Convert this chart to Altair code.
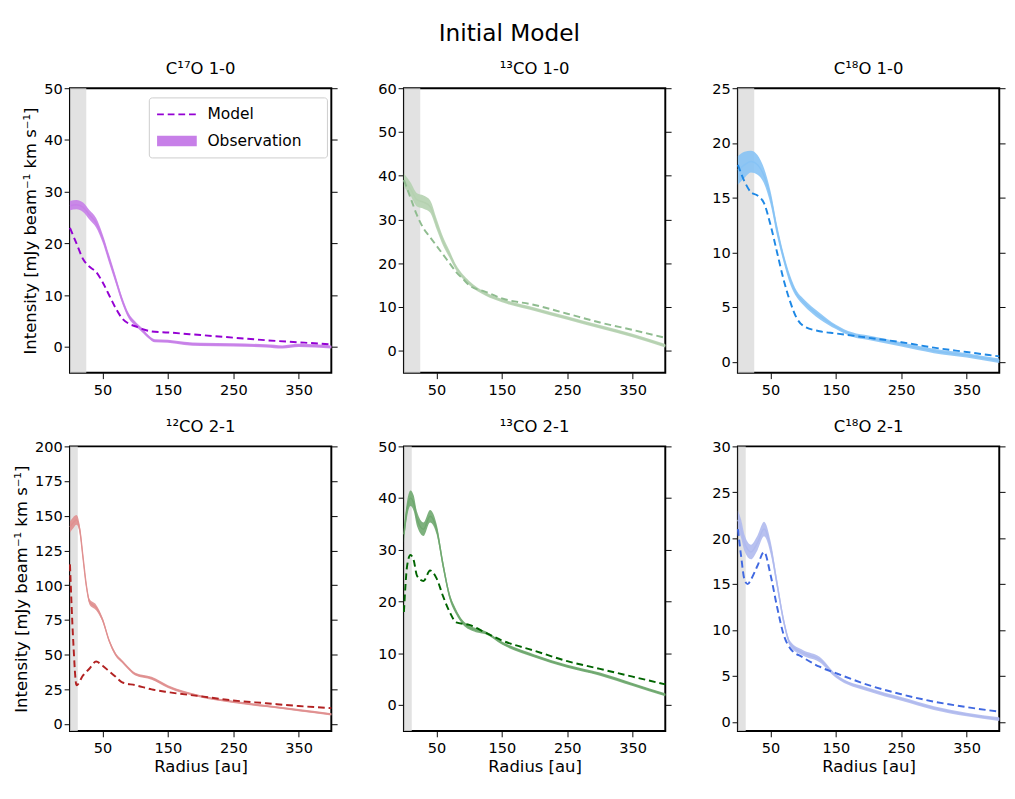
import altair as alt
import pandas as pd

FONT = "DejaVu Sans"

PANELS = [
    {
        "title": "C¹⁷O 1-0", "ydom": [-5, 50], "yticks": [0, 10, 20, 30, 40, 50], "band": 25,
        "obs_color": "#c77fe8", "model_color": "#9400d3",
        "obs_r": [0, 10, 20, 30, 40, 50, 60, 70, 80, 90, 100, 110, 120, 130, 150, 175, 200, 250, 300, 325, 350, 400],
        "obs_y": [27.3, 27.5, 27, 25.5, 24, 21, 17, 13, 9, 6, 4.5, 3.3, 2, 1.2, 1.1, 0.7, 0.5, 0.4, 0.2, 0.0, 0.3, 0],
        "obs_w": [0.9, 0.9, 0.9, 0.9, 0.9, 0.8, 0.8, 0.7, 0.6, 0.5, 0.4, 0.4, 0.3, 0.3, 0.3, 0.3, 0.3, 0.3, 0.3, 0.3, 0.3, 0.3],
        "mod_r": [0, 10, 20, 30, 40, 50, 60, 70, 80, 90, 100, 110, 125, 150, 200, 250, 300, 350, 400],
        "mod_y": [23, 20, 17, 15.5, 14.5, 12.5, 10, 7.5, 5.5, 4.5, 4, 3.5, 3.0, 2.8, 2.3, 1.8, 1.3, 0.9, 0.5],
    },
    {
        "title": "¹³CO 1-0", "ydom": [-5, 60], "yticks": [0, 10, 20, 30, 40, 50, 60], "band": 25,
        "obs_color": "#b5d1b0", "model_color": "#8fbc8f",
        "obs_r": [0, 10, 20, 30, 40, 50, 60, 70, 80, 90, 100, 125, 150, 200, 250, 300, 350, 400],
        "obs_y": [39, 37, 34.5, 34, 33, 29, 25, 22, 19, 17, 15.5, 13, 11.5, 9.5, 7.5, 5.5, 3.5, 1.2],
        "obs_w": [1.5, 1.5, 1.5, 1.5, 1.4, 1.2, 1, 0.8, 0.6, 0.5, 0.5, 0.4, 0.4, 0.4, 0.4, 0.4, 0.4, 0.4],
        "mod_r": [0, 10, 20, 30, 40, 50, 60, 70, 80, 90, 100, 125, 150, 200, 250, 300, 350, 400],
        "mod_y": [39, 35, 31, 28, 26, 24, 22, 20, 18, 16.5, 15, 13.5, 12, 10.5, 8.5, 6.5, 4.8, 3],
    },
    {
        "title": "C¹⁸O 1-0", "ydom": [-1, 25], "yticks": [0, 5, 10, 15, 20, 25], "band": 25,
        "obs_color": "#87c3f5", "model_color": "#1e88e5",
        "obs_r": [0, 10, 20, 30, 40, 50, 60, 70, 80, 90, 100, 125, 150, 175, 200, 250, 300, 350, 400],
        "obs_y": [17.5, 18, 18.3, 18, 17, 15, 12, 9.5, 7.5, 6.2, 5.5, 4.2, 3.2, 2.5, 2.2, 1.6, 1.0, 0.6, 0.1],
        "obs_w": [1.3, 1.2, 1.0, 0.9, 0.7, 0.6, 0.5, 0.4, 0.4, 0.3, 0.3, 0.3, 0.2, 0.2, 0.2, 0.2, 0.2, 0.2, 0.2],
        "mod_r": [0, 10, 20, 30, 40, 50, 60, 70, 80, 90, 100, 125, 150, 200, 250, 300, 350, 400],
        "mod_y": [18, 16.5, 15.5, 15.2, 14.5, 12.5, 10, 7.5, 5.5, 4.0, 3.3, 2.8, 2.6, 2.2, 1.8, 1.3, 0.9, 0.5],
    },
    {
        "title": "¹²CO 2-1", "ydom": [-5, 200], "yticks": [0, 25, 50, 75, 100, 125, 150, 175, 200], "band": 12,
        "obs_color": "#e09090", "model_color": "#b22222",
        "obs_r": [0, 5, 10, 15, 20, 25, 30, 40, 50, 60, 70, 80, 90, 100, 125, 150, 200, 250, 300, 350, 400],
        "obs_y": [142, 145, 147, 140, 120, 100, 88, 84, 75, 60, 50, 45, 40, 36, 33, 27, 20, 16, 13, 10, 7],
        "obs_w": [4, 4, 3.5, 3, 2.5, 2, 2, 2, 1.5, 1.2, 1.2, 1, 1, 1, 1, 1, 0.8, 0.8, 0.8, 0.8, 0.8],
        "mod_r": [0, 5, 10, 20, 30, 40, 50, 60, 70, 80, 100, 125, 150, 200, 250, 300, 350, 400],
        "mod_y": [115, 60, 28, 35, 40, 45, 42, 38, 34, 30, 28, 25, 23, 20, 17, 15, 13, 11.5],
    },
    {
        "title": "¹³CO 2-1", "ydom": [-5, 50], "yticks": [0, 10, 20, 30, 40, 50], "band": 12,
        "obs_color": "#6fa86f", "model_color": "#006400",
        "obs_r": [0, 5, 10, 15, 20, 30, 40, 50, 60, 70, 80, 90, 100, 110, 125, 150, 200, 250, 300, 350, 400],
        "obs_y": [33, 38, 40, 39, 36, 34, 36.5, 34, 27, 21, 18, 16, 15, 14.5, 14, 12, 9.5, 7.5, 6, 4, 2],
        "obs_w": [1.5, 1.5, 1.5, 1.5, 1.4, 1.3, 1.2, 1, 0.8, 0.6, 0.5, 0.4, 0.4, 0.4, 0.3, 0.3, 0.3, 0.3, 0.3, 0.3, 0.3],
        "mod_r": [0, 5, 10, 15, 20, 30, 40, 50, 60, 70, 80, 100, 125, 150, 200, 250, 300, 350, 400],
        "mod_y": [18, 27, 29, 28, 25, 24, 26, 24.5, 21, 18, 16, 15.5, 14, 12.5, 10.5, 8.5, 7, 5.5, 4],
    },
    {
        "title": "C¹⁸O 2-1", "ydom": [-1, 30], "yticks": [0, 5, 10, 15, 20, 25, 30], "band": 12,
        "obs_color": "#b0baee", "model_color": "#4169e1",
        "obs_r": [0, 5, 10, 20, 30, 40, 50, 60, 70, 80, 100, 125, 150, 200, 250, 300, 350, 400],
        "obs_y": [22, 21, 19.5, 18.5, 19.5, 21, 19, 15, 11, 8.5, 7.5, 6.8, 5, 3.5, 2.5, 1.5, 0.8, 0.3],
        "obs_w": [1, 1, 0.9, 0.8, 0.8, 0.8, 0.7, 0.5, 0.4, 0.3, 0.3, 0.3, 0.2, 0.2, 0.2, 0.2, 0.2, 0.2],
        "mod_r": [0, 5, 10, 15, 20, 30, 40, 50, 60, 70, 80, 100, 125, 150, 200, 250, 300, 350, 400],
        "mod_y": [21, 18, 15.5, 15, 15.5, 17, 18.5, 16, 12.5, 9.5, 8, 7, 6, 5.3, 4, 3, 2.2, 1.6, 1.1],
    },
]

LEGEND_LABELS = ["Model", "Observation"]

W, H = 270, 294
YTITLE = "Intensity [mJy beam⁻¹ km s⁻¹]"


def panel(p, left, bottom, legend=False):
    obs = pd.DataFrame({"r": p["obs_r"], "y": p["obs_y"], "w": p["obs_w"]})
    obs["lo"] = obs["y"] - obs["w"]
    obs["hi"] = obs["y"] + obs["w"]
    mod = pd.DataFrame({"r": p["mod_r"], "y": p["mod_y"]})
    band = pd.DataFrame({"x0": [0], "x1": [p["band"]]})

    xs = alt.Scale(domain=[0, 400], nice=False, zero=False)
    ys = alt.Scale(domain=p["ydom"], nice=False, zero=False)
    xaxis = alt.Axis(values=[50, 150, 250, 350], title="Radius [au]" if bottom else None,
                     grid=False, tickSize=6, labelFontSize=15, titleFontSize=17,
                     titleFontWeight="normal", domain=False, labelPadding=4)
    yaxis = alt.Axis(values=p["yticks"], title=YTITLE if left else None, grid=False,
                     tickSize=6, labelFontSize=15, titleFontSize=17, titleFontWeight="normal",
                     domain=False, titlePadding=4)
    yright = alt.Axis(values=p["yticks"], orient="right", labels=False, title=None,
                      grid=False, tickSize=6, domain=False)

    shade = alt.Chart(band).mark_rect(color="#dddddd", opacity=0.85).encode(
        x=alt.X("x0:Q", scale=xs, axis=xaxis), x2="x1:Q",
        y=alt.value(0), y2=alt.value(H))
    area = alt.Chart(obs).mark_area(color=p["obs_color"], opacity=0.9, interpolate="monotone").encode(
        x=alt.X("r:Q", scale=xs, axis=xaxis),
        y=alt.Y("lo:Q", scale=ys, axis=yaxis), y2="hi:Q")
    edge = alt.Chart(obs).mark_line(color=p["obs_color"], strokeWidth=1.5, interpolate="monotone").encode(
        x=alt.X("r:Q", scale=xs, axis=xaxis), y=alt.Y("y:Q", scale=ys, axis=yright))
    line = alt.Chart(mod).mark_line(color=p["model_color"], strokeDash=[7, 4], strokeWidth=2,
                                    interpolate="monotone").encode(
        x=alt.X("r:Q", scale=xs, axis=xaxis), y=alt.Y("y:Q", scale=ys, axis=None))
    layers = [shade, area, edge, line]

    if legend:
        box = alt.Chart(pd.DataFrame({"a": [0]})).mark_rect(
            fill="white", stroke="#cccccc", cornerRadius=3).encode(
            x=alt.value(82), x2=alt.value(266), y=alt.value(10), y2=alt.value(72))
        sym_line = alt.Chart(pd.DataFrame({"a": [0]})).mark_rule(
            color=p["model_color"], strokeDash=[7, 4], strokeWidth=2).encode(
            x=alt.value(90), x2=alt.value(131), y=alt.value(27))
        sym_rect = alt.Chart(pd.DataFrame({"a": [0]})).mark_rect(color=p["obs_color"]).encode(
            x=alt.value(90), x2=alt.value(131), y=alt.value(49), y2=alt.value(60))
        t1 = alt.Chart(pd.DataFrame({"label": [LEGEND_LABELS[0]]})).mark_text(
            align="left", baseline="middle", fontSize=16, font=FONT).encode(
            x=alt.value(142), y=alt.value(27), text="label:N")
        t2 = alt.Chart(pd.DataFrame({"label": [LEGEND_LABELS[1]]})).mark_text(
            align="left", baseline="middle", fontSize=16, font=FONT).encode(
            x=alt.value(142), y=alt.value(55), text="label:N")
        layers += [box, sym_line, sym_rect, t1, t2]

    return alt.layer(*layers).resolve_axis(y="independent").resolve_scale(y="shared").properties(
        width=W, height=H,
        title=alt.TitleParams(p["title"], fontSize=17, fontWeight="normal", font=FONT, offset=4))


rows = []
for i in range(2):
    row = [panel(PANELS[3 * i + j], left=(j == 0), bottom=(i == 1), legend=(i == 0 and j == 0))
           for j in range(3)]
    rows.append(alt.hconcat(*row, spacing=38))

chart = alt.vconcat(*rows, spacing=20).properties(
    title=alt.TitleParams("Initial Model", fontSize=24, fontWeight="normal", font=FONT,
                          anchor="middle", offset=14)
).configure(
    background="white", padding={"left": 4, "top": 2, "right": 0, "bottom": 0}
).configure_view(stroke="black", strokeWidth=2).configure_axis(
    labelFont=FONT, titleFont=FONT, labelColor="black", titleColor="black", tickColor="black"
)

chart.save("out.html", embed_options={"renderer": "svg", "actions": False})
